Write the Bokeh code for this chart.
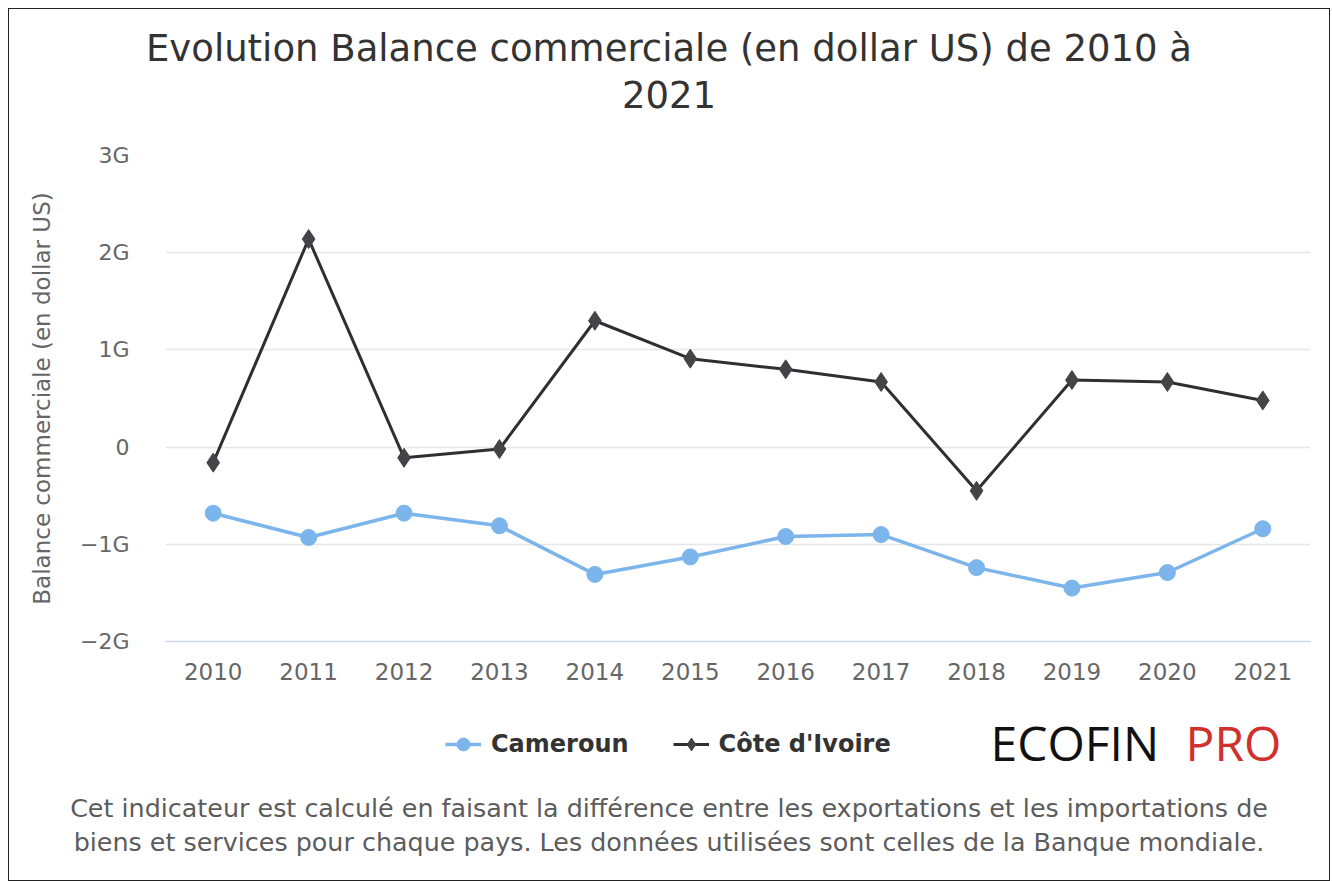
from bokeh.plotting import figure
from bokeh.layouts import column
from bokeh.models import Range1d, FixedTicker, Label, Legend, LegendItem, ColumnDataSource, Div
from bokeh.embed import file_html
from bokeh.resources import INLINE

# ---- data (values in G = milliards de dollars US) ----
years = ["2010", "2011", "2012", "2013", "2014", "2015", "2016", "2017", "2018", "2019", "2020", "2021"]
cameroun = [-0.68, -0.93, -0.68, -0.81, -1.31, -1.13, -0.92, -0.90, -1.24, -1.45, -1.29, -0.84]
cote_ivoire = [-0.16, 2.14, -0.11, -0.02, 1.30, 0.91, 0.80, 0.67, -0.45, 0.69, 0.67, 0.48]
y_ticks = [-2, -1, 0, 1, 2, 3]
y_tick_labels = ["\u22122G", "\u22121G", "0", "1G", "2G", "3G"]
series_names = ["Cameroun", "C\u00f4te d'Ivoire"]

title_1 = "Evolution Balance commerciale (en dollar US) de 2010 \u00e0"
title_2 = "2021"
y_title = "Balance commerciale (en dollar US)"
note_1 = "Cet indicateur est calcul\u00e9 en faisant la diff\u00e9rence entre les exportations et les importations de"
note_2 = "biens et services pour chaque pays. Les donn\u00e9es utilis\u00e9es sont celles de la Banque mondiale."
logo_1, logo_2 = "ECOFIN", "PRO"

FONT = "DejaVu Sans"
W = 1320
FL, FR = 156, 19                    # frame left / right borders
HH, HM, HF, HN = 130, 570, 70, 101  # title / chart / legend row / notes heights
CAM_COL, CIV_COL = "#7cb5ec", "#2f2f33"

# ---------------- title ----------------
head = Div(width=W, height=HH, margin=(0, 0, 0, 0), text=(
    f'<div style="width:{W}px;text-align:center;font-family:\'{FONT}\';font-size:37px;'
    f'line-height:47px;color:#333333;padding-top:16px;margin:0;">{title_1}<br>{title_2}</div>'))

# ---------------- chart ----------------
p = figure(width=W, height=HM, x_range=years, y_range=Range1d(-2, 3),
           output_backend="svg", toolbar_location=None,
           min_border_left=FL, min_border_right=FR, min_border_top=16, min_border_bottom=68)
p.x_range.range_padding = 0
p.outline_line_color = None
p.border_fill_color = "white"

p.xgrid.grid_line_color = None
p.ygrid.grid_line_color = "#e6e6e6"
p.ygrid.grid_line_width = 1.5
p.ygrid.ticker = FixedTicker(ticks=y_ticks)

p.yaxis.ticker = FixedTicker(ticks=y_ticks)
p.yaxis.major_label_overrides = {t: l for t, l in zip(y_ticks, y_tick_labels)}
p.yaxis.axis_line_color = None
p.yaxis.major_tick_line_color = None
p.yaxis.minor_tick_line_color = None
p.yaxis.major_label_standoff = 30
p.yaxis.major_label_text_font = FONT
p.yaxis.major_label_text_font_size = "22px"
p.yaxis.major_label_text_color = "#666666"
p.yaxis.axis_label = y_title
p.yaxis.axis_label_text_font = FONT
p.yaxis.axis_label_text_font_size = "23px"
p.yaxis.axis_label_text_font_style = "normal"
p.yaxis.axis_label_text_color = "#666666"
p.yaxis.axis_label_standoff = 22

p.xaxis.axis_line_color = "#ccd6eb"
p.xaxis.axis_line_width = 1.5
p.xaxis.major_tick_line_color = None
p.xaxis.minor_tick_line_color = None
p.xaxis.major_label_standoff = 15
p.xaxis.major_label_text_font = FONT
p.xaxis.major_label_text_font_size = "23px"
p.xaxis.major_label_text_color = "#666666"

src = ColumnDataSource(dict(year=years, cam=cameroun, civ=cote_ivoire))
p.line("year", "cam", source=src, line_color=CAM_COL, line_width=3.5)
p.scatter("year", "cam", source=src, marker="circle", size=16,
          fill_color=CAM_COL, line_color=CAM_COL)
p.line("year", "civ", source=src, line_color=CIV_COL, line_width=3)
p.scatter("year", "civ", source=src, marker="diamond", size=19,
          fill_color="#434348", line_color="#434348")

# ---------------- legend + logo row ----------------
foot = figure(width=W, height=HF, x_range=Range1d(FL, W - FR), y_range=Range1d(0, HF),
              output_backend="svg", toolbar_location=None,
              min_border_left=FL, min_border_right=FR, min_border_top=0, min_border_bottom=0,
              x_axis_location=None, y_axis_location=None)
foot.grid.visible = False
foot.outline_line_color = None
foot.border_fill_color = "white"

# legend proxies: same styling as the chart series, no visible data
proxy = ColumnDataSource(dict(x=[float("nan")], y=[float("nan")]))
l1 = foot.line("x", "y", source=proxy, line_color=CAM_COL, line_width=3.5)
m1 = foot.scatter("x", "y", source=proxy, marker="circle", fill_color=CAM_COL, line_color=CAM_COL)
l2 = foot.line("x", "y", source=proxy, line_color=CIV_COL, line_width=3)
m2 = foot.scatter("x", "y", source=proxy, marker="diamond", fill_color="#434348", line_color="#434348")
legend = Legend(items=[LegendItem(label=series_names[0], renderers=[l1, m1]),
                       LegendItem(label=series_names[1], renderers=[l2, m2])],
                orientation="horizontal", location=(436 - FL, 19), padding=0, margin=0,
                spacing=44, label_standoff=10, glyph_width=36, glyph_height=32,
                label_height=32, border_line_color=None, background_fill_alpha=0,
                label_text_font=FONT, label_text_font_size="24px",
                label_text_font_style="bold", label_text_color="#333333")
foot.add_layout(legend)

foot.add_layout(Label(x=981, y=37, text=logo_1, text_font="Open Sans", text_font_size="48px",
                      text_color="#111111", text_align="left", text_baseline="middle"))
foot.add_layout(Label(x=1176, y=37, text=logo_2, text_font="Open Sans", text_font_size="48px",
                      text_color="#d0312d", text_align="left", text_baseline="middle"))

# ---------------- notes ----------------
notes = Div(width=W, height=HN, margin=(0, 0, 0, 0), text=(
    f'<div style="width:{W}px;text-align:center;font-family:\'{FONT}\';font-size:25.4px;'
    f'line-height:34px;color:#5c5c5c;padding-top:12px;margin:0;">{note_1}<br>{note_2}</div>'))

page = column(head, p, foot, notes, spacing=0,
              styles={"border": "1px solid #222", "margin-left": "8px", "margin-top": "8px",
                      "background-color": "white"})

open("out.html", "w").write(file_html(page, INLINE))
